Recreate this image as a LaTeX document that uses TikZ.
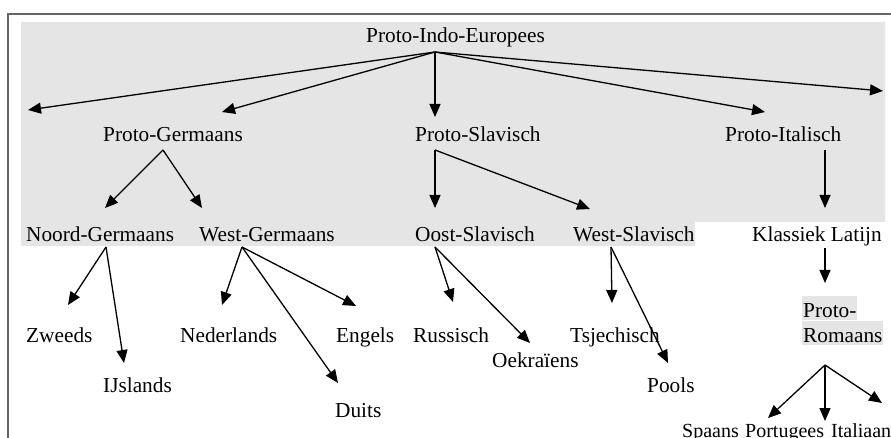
\documentclass[tikz,border=0pt]{standalone}
\usepackage{fontspec}
\setmainfont{Liberation Serif}
\usetikzlibrary{arrows.meta}

\begin{document}
\begin{tikzpicture}[x=1pt,y=-1pt,
    lang/.style={anchor=base west, inner sep=0pt, font=\fontsize{21.3}{25}\selectfont},
    hl/.style={lang, fill=gray!20, text height=21pt, text depth=3pt, inner xsep=1pt},
    arr/.style={-{Triangle[length=13pt,width=11pt]}, line width=1.3pt}]
        \clip (0,0) rectangle (891,438);

        % Frame and shaded area
        \draw[gray!80!black, line width=1.5pt] (8,460) -- (8,14) -- (900,14);
        \fill[gray!20] (21,22) -- (885,22) -- (885,222) -- (695,222) -- (695,246) -- (21,246) -- cycle;

        % Languages
        \node[lang] (pie) at (366,43) {Proto-Indo-Europees};

        \node[lang] (pgerm) at (103,142) {Proto-Germaans};
        \node[lang] (pslav) at (415,142) {Proto-Slavisch};
        \node[lang] (pital) at (725,142) {Proto-Italisch};

        \node[lang] (ngerm) at (26,242) {Noord-Germaans};
        \node[lang] (wgerm) at (199,242) {West-Germaans};
        \node[lang] (oslav) at (415,242) {Oost-Slavisch};
        \node[lang] (wslav) at (573,242) {West-Slavisch};
        \node[lang] (latin) at (752,242) {Klassiek Latijn};

        \node[lang] (zweeds) at (26,342) {Zweeds};
        \node[lang] (ijsl) at (103,392) {IJslands};
        \node[lang] (nederl) at (180,342) {Nederlands};
        \node[lang] (engels) at (336,342) {Engels};
        \node[lang] (duits) at (335,417) {Duits};
        \node[lang] (russ) at (413,342) {Russisch};
        \node[lang] (oekr) at (492,367) {Oekraïens};
        \node[lang] (tsjech) at (570,342) {Tsjechisch};
        \node[lang] (pools) at (647,392) {Pools};
        \node[hl] (promA) at (802,317) {Proto-};
        \node[hl] (promB) at (802,342) {Romaans};
        \node[lang, font=\fontsize{20}{24}\selectfont] (spaans) at (682,437) {Spaans};
        \node[lang, font=\fontsize{20}{24}\selectfont] (portug) at (745,437) {Portugees};
        \node[lang, font=\fontsize{20}{24}\selectfont] (ital) at (831,437) {Italiaan};

        % Arrow ends
        \coordinate (pie-out) at (435,52);
        \coordinate (far-left) at (28,110);
        \coordinate (far-right) at (883,91);
        \coordinate (pgerm-in) at (222,112);
        \coordinate (pslav-in) at (435,117);
        \coordinate (pital-in) at (765,112);

        \coordinate (pgerm-out) at (163,150);
        \coordinate (pslav-out) at (435,150);
        \coordinate (pital-out) at (825,150);
        \coordinate (ngerm-in) at (105,208);
        \coordinate (wgerm-in) at (202,208);
        \coordinate (oslav-in) at (435,208);
        \coordinate (wslav-in) at (590,209);
        \coordinate (latin-in) at (825,208);

        \coordinate (ngerm-out) at (106,247);
        \coordinate (wgerm-out) at (242,247);
        \coordinate (oslav-out) at (435,247);
        \coordinate (wslav-out) at (611,247);
        \coordinate (latin-out) at (825,248);
        \coordinate (zweeds-in) at (68,305);
        \coordinate (ijsl-in) at (124,363);
        \coordinate (nederl-in) at (222,305);
        \coordinate (duits-in) at (338,383);
        \coordinate (engels-in) at (356,306);
        \coordinate (russ-in) at (453,302);
        \coordinate (oekr-in) at (530,343);
        \coordinate (tsjech-in) at (612,303);
        \coordinate (pools-in) at (668,363);
        \coordinate (prom-in) at (825,283);

        \coordinate (prom-out) at (825,365);
        \coordinate (spaans-in) at (768,418);
        \coordinate (portug-in) at (825,421);
        \coordinate (ital-in) at (882,403);

        % Arrows
        \foreach \a/\b in {pgerm/ngerm, pgerm/wgerm, pslav/oslav, pslav/wslav, pital/latin,
                           ngerm/zweeds, ngerm/ijsl, wgerm/nederl, wgerm/duits, wgerm/engels,
                           oslav/russ, oslav/oekr, wslav/tsjech, wslav/pools, latin/prom,
                           prom/spaans, prom/portug, prom/ital}
          \draw[arr] (\a-out) -- (\b-in);
        \draw[arr] (pie-out) -- (far-left);
        \draw[arr] (pie-out) -- (pgerm-in);
        \draw[arr] (pie-out) -- (pslav-in);
        \draw[arr] (pie-out) -- (pital-in);
        \draw[arr] (pie-out) -- (far-right);
\end{tikzpicture}
\end{document}
